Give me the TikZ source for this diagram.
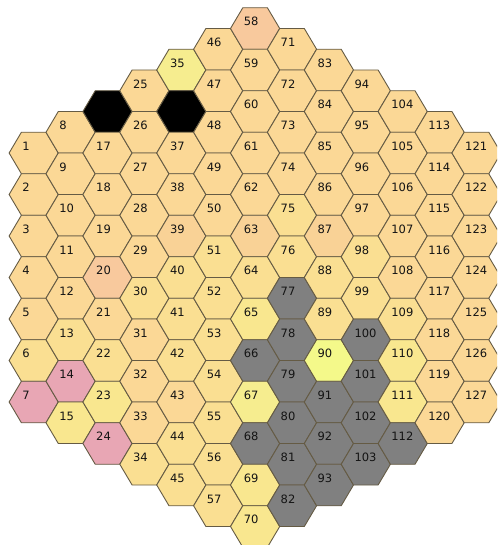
\documentclass[tikz,border=0pt]{standalone}
\usepackage{fontspec}
\setmainfont{DejaVu Sans}
\definecolor{cOr}{HTML}{FBD896}
\definecolor{cMd}{HTML}{FADF92}
\definecolor{cYe}{HTML}{F9E78F}
\definecolor{cYl}{HTML}{F6ED8F}
\definecolor{cLi}{HTML}{F4F98A}
\definecolor{cSa}{HTML}{F8C99D}
\definecolor{cLs}{HTML}{F9D296}
\definecolor{cPk}{HTML}{E8A6B4}
\definecolor{cGr}{HTML}{808080}
\definecolor{cEdge}{HTML}{655B44}
\definecolor{cTxt}{HTML}{141414}
\tikzset{
  hexcell/.style={draw=cEdge, line width=0.9pt, fill=cOr, line join=miter},
  hexlabel/.style={anchor=base west, inner sep=0pt, font=\fontsize{11.5}{12}\selectfont, text=cTxt},
  hx16/.style={fill=black}, hx36/.style={fill=black},
  hx66/.style={fill=cGr}, hx68/.style={fill=cGr}, hx77/.style={fill=cGr}, hx78/.style={fill=cGr},
  hx79/.style={fill=cGr}, hx80/.style={fill=cGr}, hx81/.style={fill=cGr}, hx82/.style={fill=cGr},
  hx91/.style={fill=cGr}, hx92/.style={fill=cGr}, hx93/.style={fill=cGr}, hx100/.style={fill=cGr},
  hx101/.style={fill=cGr}, hx102/.style={fill=cGr}, hx103/.style={fill=cGr}, hx112/.style={fill=cGr},
  hx7/.style={fill=cPk}, hx14/.style={fill=cPk}, hx24/.style={fill=cPk},
  hx20/.style={fill=cSa}, hx58/.style={fill=cSa},
  hx39/.style={fill=cLs}, hx63/.style={fill=cLs}, hx87/.style={fill=cLs},
  hx35/.style={fill=cYl}, hx67/.style={fill=cYl},
  hx15/.style={fill=cYe}, hx23/.style={fill=cYe}, hx65/.style={fill=cYe}, hx69/.style={fill=cYe},
  hx70/.style={fill=cYe}, hx110/.style={fill=cYe}, hx111/.style={fill=cYe},
  hx90/.style={fill=cLi},
  hx6/.style={fill=cMd}, hx13/.style={fill=cMd}, hx22/.style={fill=cMd}, hx30/.style={fill=cMd},
  hx40/.style={fill=cMd}, hx41/.style={fill=cMd}, hx42/.style={fill=cMd}, hx44/.style={fill=cMd},
  hx45/.style={fill=cMd}, hx51/.style={fill=cMd}, hx52/.style={fill=cMd}, hx53/.style={fill=cMd},
  hx54/.style={fill=cMd}, hx55/.style={fill=cMd}, hx56/.style={fill=cMd}, hx57/.style={fill=cMd},
  hx64/.style={fill=cMd}, hx75/.style={fill=cMd}, hx76/.style={fill=cMd}, hx88/.style={fill=cMd},
  hx89/.style={fill=cMd}, hx98/.style={fill=cMd}, hx99/.style={fill=cMd}, hx109/.style={fill=cMd},
  hx34/.style={fill=cMd}
}
\begin{document}
\begin{tikzpicture}[x=1pt,y=-1pt]
\useasboundingbox (0,0) rectangle (497,545);
\clip (0,0) rectangle (497,545);
\foreach \c/\s/\n in {0/1/7,1/8/8,2/16/9,3/25/10,4/35/11,5/46/12,6/58/13,7/71/12,8/83/11,9/94/10,10/104/9,11/113/8,12/121/7}{
  \pgfmathtruncatemacro\last{\n-1}
  \foreach \i in {0,...,\last}{
    \pgfmathtruncatemacro\num{\s+\i}
    \pgfmathsetmacro\cx{33.7+36.9*\c}
    \pgfmathsetmacro\cy{277.5+(\i-(\n-1)/2)*41.5}
    \draw[hexcell, hx\num/.try, shift={(\cx,\cy)}]
      (24.6,0) -- (12.3,20.75) -- (-12.3,20.75) -- (-24.6,0) -- (-12.3,-20.75) -- (12.3,-20.75) -- cycle;
    \ifnum\num=16\relax\else\ifnum\num=36\relax\else
      \node[hexlabel] (h\num) at (\cx-11.5,\cy-2.7) {\num};
    \fi\fi
  }
}
\end{tikzpicture}
\end{document}
